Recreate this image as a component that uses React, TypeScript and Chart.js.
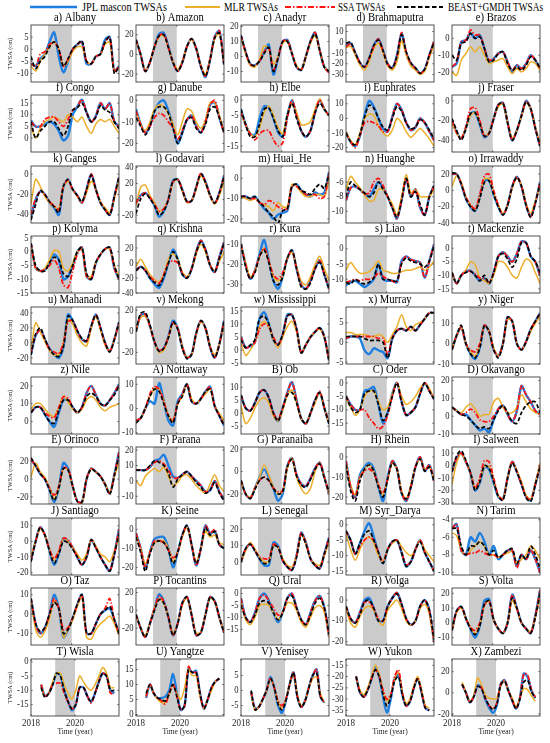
import React, { useEffect, useRef } from 'react';
import { Chart, registerables } from 'chart.js';
Chart.register(...registerables);

// ---------------- DATA ----------------
const legendLabels = ['JPL mascon TWSAs', 'MLR TWSAs', 'SSA TWSAs', 'BEAST+GMDH TWSAs'];

const basinTitles = [
  'a) Albany', 'b) Amazon', 'c) Anadyr', 'd) Brahmaputra', 'e) Brazos',
  'f) Congo', 'g) Danube', 'h) Elbe', 'i) Euphrates', 'j) Fraser',
  'k) Ganges', 'l) Godavari', 'm) Huai_He', 'n) Huanghe', 'o) Irrawaddy',
  'p) Kolyma', 'q) Krishna', 'r) Kura', 's) Liao', 't) Mackenzie',
  'u) Mahanadi', 'v) Mekong', 'w) Mississippi', 'x) Murray', 'y) Niger',
  'z) Nile', 'A) Nottaway', 'B) Ob', 'C) Oder', 'D) Okavango',
  'E) Orinoco', 'F) Parana', 'G) Paranaiba', 'H) Rhein', 'I) Salween',
  'J) Santiago', 'K) Seine', 'L) Senegal', 'M) Syr_Darya', 'N) Tarim',
  'O) Taz', 'P) Tocantins', 'Q) Ural', 'R) Volga', 'S) Volta',
  'T) Wisla', 'U) Yangtze', 'V) Yenisey', 'W) Yukon', 'X) Zambezi',
];

const sampleTimes = [
  2018.46, 2018.635, 2018.81, 2018.985, 2019.16, 2019.335, 2019.51, 2019.685, 2019.86, 2020.035,
  2020.21, 2020.385, 2020.56, 2020.735, 2020.91, 2021.085, 2021.26, 2021.435, 2021.61, 2021.785,
];

const grayPeriod = [2019.1, 2020.0];
const bottomTickYears = [2018, 2020];
const innerTickYears = [2020];

const yLimits = [
  [-13.5, 10], [-28, 30], [-17, 21], [-37, 16], [-26, 8],
  [-6, 18.5], [-24, 2.5], [-17, 1.7], [-23, 16], [-52, 6],
  [-48, 8], [-30, 42], [-22, 6], [-11.6, -3.8], [-40, 30],
  [-15, 5.7], [-40, 36], [-34, -6], [-14.5, 4.2], [-16.5, 4.5],
  [-28, 48], [-31, 23], [-5.3, 16.5], [-5.5, 9], [-10, 18],
  [-7, 25], [-10.5, 13], [-8, 14], [-19, 2.2], [-10, 22],
  [-28, 36], [-15, 22], [-29, 22], [-23.5, 5], [-31, 15],
  [-21.5, 15], [-24, 6], [-8, 27], [-16.3, 2.2], [-10.3, -3.8],
  [-16, 13.5], [-39, 25], [-21.5, 2.3], [-21.6, 5.8], [-15, 23.6],
  [-19, 1], [-0.5, 18.5], [-8.5, 10.5], [-37.5, -12.2], [-22, 32],
];

const yTicks = [
  [-10, -5, 0, 5], [-20, 0, 20], [-10, 0, 10, 20], [-30, -20, -10, 0, 10], [-20, -10, 0],
  [0, 5, 10, 15], [-20, -10, 0], [-15, -10, -5, 0], [-20, -10, 0, 10], [-40, -20, 0],
  [-40, -20, 0], [-20, 0, 20, 40], [-20, -10, 0], [-10, -8, -6], [-40, -20, 0, 20],
  [-15, -10, -5, 0, 5], [-40, -20, 0, 20], [-30, -20, -10], [-10, -5, 0], [-15, -10, -5, 0],
  [-20, 0, 20, 40], [-20, 0, 20], [-5, 0, 5, 10, 15], [-5, 0, 5], [-10, 0, 10],
  [0, 10, 20], [-10, 0, 10], [-5, 0, 5, 10], [-15, -10, -5, 0], [-10, 0, 10, 20],
  [-20, 0, 20], [-10, 0, 10, 20], [-20, 0, 20], [-20, -10, 0], [-30, -20, -10, 0, 10],
  [-20, -10, 0, 10], [-20, -10, 0], [0, 10, 20], [-15, -10, -5, 0], [-10, -8, -6, -4],
  [-10, 0, 10], [-20, 0, 20], [-15, -10, -5, 0], [-20, -10, 0], [-10, 0, 10, 20],
  [-15, -10, -5, 0], [0, 5, 10, 15], [-5, 0, 5], [-35, -30, -25, -20, -15], [-20, 0, 20],
];

const jplSeries = [
  [-6, -7, -4, -2, 3, 7, -3, -9.5, -5, 0, 2, 3, -6, -6, -3, -2, 4, 5, -9, -7],
  [15, 0, -17, -8, 8, 21, 22, 8, -8, -17, -8, 8, 16, 6, -12, -23, -5, 18, 24, -10],
  [14, 3, -5, -6, -3, 3, 8, -12, -1, 10, 11, 2, -7, -9, 0, 10, 16, 4, -7, -10],
  [-3, -1, -10, -19, -23, -15, -3, 3, -8, -20, -24, -12, 8, -10, -20, -24, -29, -25, -12, 0],
  [-17, -15, -2, -1, 3, 0, 2, -6, -14, -12, -9, -8, -14, -20, -16, -18, -15, -10, -13, -18],
  [7.5, 5, 5, 6, 7, 6, 3, -1, 1, 10, 13.5, 16.5, 11, 7, 9.5, 15, 12.5, 15, 7, 5],
  [-4, -11, -15, -12, -5, -1, 0, -5, -12, -20, -15, -9, -7, -12, -15, -10, -2, -1, -8, -15],
  [-3, -8, -11, -11.5, -6, -2, -2.5, -6, -10.5, -12, -5, 0, -5, -10, -12, -10, -4, 0, -3, -5],
  [-10, -16, -19, -12, 2, 12, 8, 0, -7, -9, 1, 10, 6, -3, -8, -6, 0, -3, -9, -15],
  [-20, -32, -38, -28, -13, -12, -24, -37, -33, -18, -4, -2, -22, -40, -30, -15, 0, -8, -28, -46],
  [-42, -25, -17, -20, -28, -33, -40, -12, -6, -15, -21, -28, -15, 0, -15, -28, -35, -40, -22, -3],
  [-5, 5, 8, 2, -8, -22, -15, 0, 24, 25, 12, -3, -2, 15, 32, 22, 5, -5, 8, 30],
  [-9, -9, -10, -9, -12, -15, -17, -20, -18, -17, -16, -4, -3, -6, -8, -9, -7, -8, -7, 3],
  [-8.5, -6.8, -6.6, -7, -7.6, -8, -7, -6, -6.8, -8, -9.5, -11, -8.5, -5.5, -8, -7, -9.5, -10.5, -8, -6.5],
  [20, 20, 8, -10, -20, -25, -8, 12, 12, -5, -20, -30, -18, 5, 17, 5, -18, -32, -15, 10],
  [3, -6, -7, -6.5, -4, -1, -3, -10, -9, -5, 0, 1.5, -9, -10, -4, -1, 1, 1.5, -6, -10],
  [-10, -5, -10, -20, -28, -33, -20, 0, 18, 5, -15, -20, -8, 15, 30, 18, -3, -12, 8, 28],
  [-10, -20, -27, -23, -15, -8, -18, -28, -32, -26, -17, -13, -22, -30, -32, -28, -22, -18, -25, -32],
  [-12, -11, -10.5, -11.5, -12.5, -11.5, -10, -5, -10, -10.5, -10.5, -11, -4, -2.5, -3.5, -4, -4.5, -9.5, -4, 1.5],
  [-9, -13, -10, -8.5, -8.3, -10, -12, -11, -13, -9, -3, -1.5, -3, -5, -2, 2.5, 2, -3, -5, -10],
  [-15, 10, 17, 5, -8, -15, -20, -5, 38, 30, 16, 5, 2, 22, 38, 20, 0, -11, 5, 28],
  [0, 15, 16, 5, -10, -19, -16, -5, 10, 3, -15, -25, -22, -2, 10, 3, -15, -25, -12, 10],
  [5, 1, 1.5, 3, 12, 14.5, 10, 4, 2, 6, 13.5, 13.5, 8, -1, 2, 5, 7, 8.5, 5, -4],
  [1, 1.5, 1.5, 1, -2, -3, -1.5, -2, -2.5, -4, 1, 3, 3.5, 3, 4, 3, 4.5, 6, 7.5, 7.5],
  [-3, 4, 8, 0, -5, -7.5, -2, 9, 6, -3, -6, 0, 13, 11, 0, -3, 1, 7, 11, 15],
  [5, 8, 8, 4, 0, -3, 5, 12, 12, 8, 5, 8, 16, 20, 15, 10, 9, 12, 16, 21],
  [-5, -4, 0, 3, 2, 10.5, 3, -5, -7, 3, 6, 10, 3, 2, 4, 7, 9, 1, -3, -7],
  [7, 2, 1, 4, 8, 9, 6, 0, -3, 2, 8, 12, 5, -2, -4, 0, 5, 8, 2, -4],
  [-5, -8, -10, -10, -3, -2.5, -1.5, -8, -15, -11, -4, 0, -7, -12, -11, -9, -4, 0, -3, -6],
  [5, 3, 1, 1, -2, -5, -8, -7, -9, -2, 4, 6, 1, -3, 3, 17, 12, 8, 3, 1],
  [22, 15, 6, 0, -12, -26, -10, 18, 12, -8, -25, -26, 0, 12, 8, 3, -6, -16, 5, 30],
  [7, 7, 7, 9, 13, 14, 17, 10, 3, 2, 4, 6, 3, 0, -3, -7, -6, 0, -7, -12],
  [-8, -20, -24, -15, -5, 2, -5, -15, -26, -20, 5, 12, -3, -11, -13, -6, 3, 8, -5, -20],
  [-2, -15, -20, -9, -5, -3, -6, -15, -22, -10, -2, -6, -18, -22, -15, -5, 0, -7, -4, -12],
  [-5, 6, 10, 3, -6, -20, -14, -1, -3, -14, -25, -27, -10, 3, -5, -15, -25, -28, -15, 0],
  [-12, 0, 9, 4, -6, -15, -8, 2, 0, -4, -10, -15, -10, 1, -4, -10, -15, -19, -8, 8],
  [-2, -10, -20, -12, -5, -4, -4, -10, -20, -12, -3, 2, -8, -19, -10, 2, -2, -1, -8, -10],
  [0, 8, 11, 7, 2, -2, -2, 12, 10, 1, -3, -5, 4, 18, 12, 2, -2, -4, 5, 15],
  [-2, -5, -9.5, -6, -2, 0.5, -4, -9, -12.5, -8, -5.5, -5, -9, -13.5, -12, -8, -5, -9, -12, -15],
  [-5, -4.5, -7.5, -8, -6, -6.5, -5.5, -6.5, -8, -7, -8.5, -8, -7.5, -7.5, -9.3, -8, -8.5, -7.5, -8.5, -10],
  [8, -5, -10, -7, 0, 10, 3, -12, -8, -2, 5, 10, -10, -10, -5, 0, 2, 3, -3, -10],
  [-5, -20, -30, -15, 2, 18, 10, -8, -28, -15, 8, 15, -5, -28, -25, -5, 15, 10, -8, -25],
  [-2, -10, -12, -8, -2, 0, -3, -8, -12, -8, -2, 0, -6, -11, -13, -8, -3, -1, -6, -18],
  [-3, -9, -11, -6, 0, 1, -4, -10, -10, -3, 1, 3.5, -2, -9, -12, -10, -3, 0, -5, -20],
  [-5, 8, 11, 3, -4, -10, -2, 15, 16, 2, -4, -7, 0, 19, 10, 0, -4, -7, 5, 22],
  [-8, -12, -11, -8, -4, -4.5, -10, -14, -17, -15, -9, -9, -12, -14, -11, -7, -4, -5, -10, -11],
  [5.5, 10, 7, 5.5, 5.5, 6, 8, 13.5, 7, 1.5, 3, 15, 14, 14.5, 7, 2, 5, 9, 11, 12],
  [-0.5, -6, -5.5, -3, 0, 4.5, 1, -5, -7.5, -3.5, 2, 6, -2, -5.5, -3.5, 1, 5, 7, -2, -4],
  [-20, -27, -29, -26, -21, -16, -20, -29, -36, -30, -21, -19, -28, -33, -31, -25, -21, -27, -34, -35],
  [8, 0, -9, -4, 7, 5, -6, -14, -19, -12, 8, 12, 2, -7, -15, -5, 18, 15, 2, -5],
];

const mlrSeries = [
  [-7, -9, -5, -2, 1, 3, 0, -7, -5, -1, 1, 1, -5, -6, -3, -2, 2, 3, -9, -8],
  [14, 0, -16, -8, 8, 18, 19, 7, -7, -15, -7, 8, 15, 6, -11, -20, -4, 16, 21, -9],
  [13, 2, -6, -7, -2, 7, 5, -5, 0, 9, 10, 2, -6, -9, 0, 9, 14, 4, -7, -10],
  [-5, -4, -12, -21, -26, -18, -6, -1, -10, -22, -26, -18, 1, -12, -22, -26, -30, -27, -14, -3],
  [-20, -22, -13, -9, -5, -8, -5, -10, -15, -14, -13, -12, -17, -21, -18, -20, -18, -14, -15, -19],
  [5, 0, 4, 7, 8, 9, 8, 7, 10, 9, 7, 9, 5, 2, 6, 8, 7, 8, 5, 2],
  [-5, -11, -14, -10, -4, -2, -3, -6, -11, -16, -10, -4, -5, -10, -13, -9, -1, -1, -7, -15],
  [-4, -8, -11, -12, -9, -4, -2, -5, -9, -11, -5, -1, -4, -8, -8, -7, -3, 0.5, -3, -5],
  [-9, -15, -18, -10, 0, 3, 2, -5, -10, -12, -8, 0, -3, -9, -13, -10, -7, -10, -14, -19],
  [-22, -33, -38, -28, -15, -12, -22, -36, -32, -18, -6, -3, -22, -38, -30, -16, -2, -8, -27, -44],
  [-30, -5, -12, -22, -28, -32, -34, -12, -7, -15, -22, -28, -18, -7, -15, -27, -33, -38, -24, -6],
  [-8, 15, 18, 5, -5, -15, -12, 0, 22, 25, 10, -4, -2, 13, 30, 20, 4, -6, 5, 22],
  [-9, -10, -11, -10, -12, -13, -14, -16, -12, -14, -14, -3, -4, -7, -9, -9, -8, -8, -9, -1],
  [-7, -5.2, -6, -6.8, -7.8, -8.6, -8.5, -7, -7, -8, -9, -10.5, -8, -5, -7.5, -7, -8, -8, -8, -7],
  [5, 18, 10, -8, -18, -23, -8, 14, 14, -3, -18, -28, -18, 3, 15, 6, -16, -28, -13, 5],
  [3, -6, -7, -6, -3, 0.5, 0, -6, -7, -4, 0, 1, -9, -9, -4, -1, 1, 1, -5, -9],
  [-5, 5, -5, -15, -22, -25, -15, 5, 12, 5, -12, -18, -8, 12, 25, 15, -2, -10, 2, 15],
  [-10, -19, -26, -23, -16, -12, -18, -26, -28, -26, -17, -14, -21, -28, -30, -26, -20, -16, -22, -28],
  [-7, -4.5, -6.5, -8, -8, -7.5, -6, -4, -7, -7.5, -8, -8, -7.5, -7, -7, -6.5, -6, -7, -6, -4],
  [-9, -13, -10, -8, -5, -6, -11, -12, -13, -10, -5, -5, -7, -10, -11, -7, -4, -5, -9, -13],
  [-10, 27, 15, 2, -10, -16, -15, 0, 32, 25, 10, 0, -4, 20, 35, 18, -3, -10, 5, 25],
  [2, 13, 14, 5, -10, -20, -18, -6, 8, 3, -14, -25, -22, -3, 9, 3, -14, -22, -12, 7],
  [3, -2, 0, 3, 9, 11, 9, 4, 1, 5, 9, 11, 7, -1, 2, 5, 7, 8, 5, -4],
  [2.5, 2.5, 2, 2, 2, 1.5, 1.5, 2, 1.5, 0, 2, 4, 7, 4, 3, 4.5, 5, 6, 7.5, 7.5],
  [-3, 4, 8, 0, -4, -6, -1, 9, 6, -2, -6, 0, 12, 11, 0, -3, 1, 6, 10, 13],
  [7, 10, 10, 7, 4, 3, 8, 14, 11, 7, 5, 7, 12, 14, 12, 8, 6, 8, 9, 10],
  [-5, -4, 0, 5, 8, 8, 3, -3, -5, 2, 5, 10, 4, 2, 4, 6, 8, 1, -2, -5],
  [3, -4, -2, 2, 5, 6, 4, -1, -3, 1, 7, 9, 4, -2, -4, 0, 4, 8, 2, -4],
  [-6, -9, -12, -10, -5, -3, -3, -7, -10, -9, -4, 0, -5, -8, -7, -5, -2, 0, -2, -6],
  [5, 3, 2, 5, 7, 4, 0, 1, 1, 8, 10, 5, 2, 2, 5, 12, 8, 4, 2, 1],
  [2, 18, 8, 2, -10, -22, -10, 12, 10, -8, -25, -27, 0, 11, 8, 3, -6, -15, 3, 18],
  [0, -3, 3, 6, 8, 6, 9, 3, -3, -1, 3, 4, 1, -3, -6, -8, -2, 4, -3, -7],
  [-10, -20, -23, -15, -5, 6, -3, -14, -20, -18, 3, 12, -5, -15, -20, -15, 0, 8, -5, -20],
  [-3, -14, -19, -10, -6, -4, -7, -14, -19, -11, -3, -6, -17, -21, -14, -5, -1, -6, -5, -11],
  [-15, 2, 10, 3, -6, -18, -12, -1, -1, -12, -24, -27, -10, 3, -4, -13, -24, -27, -14, 2],
  [-10, 0, 8, 4, -5, -12, -6, 2, 0, -4, -8, -12, -8, 1, -3, -8, -10, -13, -6, 2],
  [-3, -10, -18, -12, -7, -6, -6, -10, -17, -12, -4, 1, -8, -17, -10, -1, -4, -3, -7, -8],
  [0, 7, 12, 8, 3, 0, 0, 10, 9, 2, -2, -3, 4, 17, 11, 2, -1, -2, 4, 12],
  [-3, -8, -11.5, -8, -5, -4, -6, -10, -12, -8, -6, -5, -7, -9, -10, -8, -5, -8, -10, -12],
  [-5.5, -5.8, -7.5, -8, -7.5, -7, -6.5, -7, -8, -8, -8.3, -8, -7.8, -7.6, -9, -8.5, -8, -7, -7.5, -8.5],
  [8, -8, -12, -9, -2, 7, 3, -12, -8, -3, 4, 9, -12, -13, -8, -5, -3, -1, -5, -11],
  [-5, -20, -28, -15, 3, 13, 8, -8, -26, -15, 6, 14, -5, -26, -24, -5, 14, 9, -8, -24],
  [-3, -11, -13, -10, -5, -4.5, -5, -8, -11, -8, -4, -4, -7, -12, -14, -10, -6, -5, -8, -18],
  [-4, -11, -13, -8, -4, -3, -5, -10, -12, -5, -2, 0, -4, -10, -12, -10, -4, -2, -7, -20],
  [-5, 7, 10, 3, -3, -7, -1, 12, 15, 2, -4, -7, 0, 15, 9, 0, -4, -6, 4, 17],
  [-8, -12, -11, -7, -4, -4, -8, -11, -13, -10, -5, -7, -9, -10, -8, -5, -2, -4, -9, -9],
  [6, 10, 7, 5, 4, 4, 7, 10, 7, 5, 9, 15, 13, 13, 6, 2, 5, 8, 11, 12],
  [-0.5, -6.5, -5.5, -3, 0, 4, 1, -4, -6, -3, 2, 5.5, -1.5, -5, -3.5, 1, 4, 4.5, -1, -4],
  [-20, -26, -28, -25, -20, -15, -19, -27, -31, -28, -21, -18, -27, -32, -30, -24, -20, -26, -33, -34],
  [10, 0, -8, -3, 14, 8, -2, -5, -6, -5, 6, 11, 2, -5, -13, -5, 4, 3, -3, -8],
];

const ssaSeries = [
  [-6, -7, -2, -1, 2, 3, 0, -7, -4, 0, 2, 3, -5, -6, -3, -2, 3, 5, -9, -7],
  [15, 0, -17, -8, 8, 19, 21, 7, -8, -17, -8, 8, 16, 6, -12, -22, -5, 18, 24, -10],
  [14, 3, -5, -6, -3, 3, 6, -9, -1, 10, 11, 2, -7, -9, 0, 10, 16, 4, -7, -11],
  [-4, -2, -10, -19, -23, -15, -4, 3, -8, -20, -24, -13, 9, -9, -20, -24, -29, -25, -12, 1],
  [-17, -14, -2, -1, 5, 2, 2, -6, -13, -12, -9, -8, -14, -19, -16, -18, -15, -10, -13, -18],
  [7, 5, 5, 8, 9, 9, 7, 5, 8, 12, 13.5, 16.5, 11, 7, 9.5, 15, 12.5, 15, 7, 5],
  [-5, -11, -15, -12, -8, -6, -7, -10, -13, -18, -14, -9, -7, -12, -15, -10, -2, 0, -8, -15],
  [-4, -8, -11, -13, -11, -10, -10, -13, -15, -14, -6, 0, -5, -10, -12, -10, -4, 0, -3, -5],
  [-10, -16, -20, -12, -3, -2, -3, -5, -9, -9, 1, 10, 6, -3, -8, -6, 0, -3, -9, -15],
  [-20, -32, -38, -26, -8, -7, -20, -36, -33, -18, -4, -2, -22, -40, -30, -15, 0, -8, -28, -46],
  [-40, -24, -17, -20, -27, -31, -35, -12, -6, -15, -21, -28, -15, 0, -15, -28, -35, -40, -22, -3],
  [-5, 4, 8, 2, -6, -15, -12, 0, 22, 25, 12, -3, -2, 15, 33, 22, 5, -5, 8, 30],
  [-9, -9, -10, -10, -12, -13, -11, -12, -14, -15, -15, -4, -4, -6, -8, -8, -8, -10, -9, 3],
  [-8.5, -6.8, -6.6, -7, -7.6, -7.5, -6, -5.5, -6.5, -8, -9.5, -11, -8.5, -5.5, -8, -7, -9.5, -10.5, -8, -6.5],
  [20, 20, 8, -8, -18, -22, -5, 18, 20, 0, -18, -30, -18, 5, 17, 5, -18, -32, -15, 10],
  [3, -6, -7, -6.5, -5, -3, -6, -12, -13, -7, -1, 1.5, -9, -10, -4, -1, 1, 1.5, -6, -10],
  [-10, -5, -10, -18, -24, -27, -15, 0, 3, 0, -13, -20, -8, 15, 30, 18, -3, -12, 8, 28],
  [-10, -20, -27, -23, -16, -12, -18, -25, -27, -24, -17, -13, -22, -30, -32, -28, -22, -18, -25, -32],
  [-11, -10.5, -10, -10.5, -10, -10, -9.5, -8, -9, -10, -10.5, -11, -4.5, -2.5, -3.5, -4, -4.5, -9.5, -4, 1.5],
  [-9, -13, -10, -8.5, -8.5, -9.5, -11, -11, -12.5, -9, -3, -1.5, -3, -5, -2, 2.5, 2, -3, -5, -10],
  [-13, 10, 17, 5, -8, -12, -14, 0, 28, 30, 16, 5, 2, 22, 38, 20, 0, -11, 5, 28],
  [0, 15, 16, 5, -10, -18, -16, -5, 8, 3, -15, -25, -22, -2, 10, 3, -15, -25, -12, 10],
  [5, 1, 1.5, 3, 8, 10, 9, 5, 2, 6, 13, 13.5, 8, -1, 2, 5, 7, 8.5, 5, -4],
  [1, 1.5, 1.5, 1.5, 1.5, 1.5, 1.5, 1, 1, -3, 1, 3, 3.5, 3, 4, 3, 4.5, 6, 7.5, 7.5],
  [-3, 4, 8, 0, -3, -4, 0, 9, 6, -3, -6, 0, 13, 11, 0, -3, 1, 7, 11, 15],
  [5, 8, 8, 5, 3, 2, 8, 14, 13, 8, 5, 8, 16, 20, 15, 10, 9, 12, 16, 21],
  [-5, -4, 0, 6, 9, 8, 3, -3, -5, 2, 6, 10, 3, 2, 4, 7, 9, 1, -3, -7],
  [7, 2, 1, 4, 8, 9, 6, 0, -2, 2, 8, 12, 5, -2, -4, 0, 5, 8.5, 2, -4],
  [-5, -8, -10, -10, -10, -13, -15, -17, -16, -12, -5, 0, -7, -12, -11, -9, -4, 0, -3, -6],
  [5, 3, 1, 2, 4, 2, -2, -3, -3, 0, 4, 6, 1, -3, 3, 17, 12, 8, 3, 1],
  [22, 15, 6, 0, -10, -18, -8, 12, 12, -8, -25, -26, 0, 12, 8, 3, -6, -16, 5, 30],
  [7, 7, 7, 9, 12, 13, 11, 7, 2, 2, 4, 6, 3, 0, -3, -7, -6, 0, -7, -12],
  [-8, -20, -24, -15, -8, -5, -8, -15, -18, -17, 5, 12, -3, -11, -13, -6, 3, 8, -5, -20],
  [-2, -15, -20, -10, -7, -6, -8, -14, -18, -11, -2, -6, -18, -22, -15, -5, 0, -7, -4, -12],
  [-5, 6, 10, 3, -6, -18, -10, 4, 3, -10, -24, -27, -10, 3, -5, -15, -25, -28, -15, 0],
  [-12, 0, 9, 4, -5, -11, -6, 2, 1, -4, -10, -15, -10, 1, -4, -10, -15, -19, -8, 8],
  [-2, -10, -20, -12, -6, -6, -7, -11, -15, -12, -3, 2, -8, -19, -10, 2, -2, 0, -8, -10],
  [0, 8, 11, 7, 3, 2, 2, 11, 9, 1, -3, -5, 4, 18, 12, 2, -2, -4, 5, 15],
  [-2, -5, -9.5, -7, -5, -4, -5, -9, -12, -8, -5.5, -5, -9, -13, -12, -8, -5, -9, -12, -15],
  [-5, -4.5, -7.5, -8, -7.8, -7.8, -7.5, -7.8, -8, -8, -8.3, -8, -7.5, -7.5, -9.5, -8, -8.5, -7.5, -8.5, -10],
  [8, -5, -10, -7, 0, 8, 3, -8, -7, -2, 5, 10, -10, -10, -5, 0, 3, 8, -3, -10],
  [-5, -20, -30, -15, 2, 16, 10, -8, -28, -15, 8, 15, -5, -28, -25, -5, 15, 10, -8, -25],
  [-2, -10, -12, -8, -2, -0.5, -3, -6, -9, -8, -2, 0, -6, -11, -13, -8, -3, -1, -6, -18],
  [-3, -9, -11, -6, -1, -1, -4, -9, -10, -3, 1, 3.5, -2, -9, -12, -10, -3, 0, -5, -20],
  [-5, 8, 11, 3, -3, -5, 0, 12, 15, 2, -4, -7, 0, 19, 10, 0, -4, -7, 5, 22],
  [-8, -12, -11, -8, -7.5, -7.5, -11, -14, -16.5, -15, -9, -9, -12, -14.5, -11, -7, -4, -5, -11, -11],
  [6, 10, 7, 5.5, 4.5, 3.5, 7, 10, 6, 1.5, 3, 16, 14, 14, 7, 2, 5, 9, 11, 12],
  [-0.5, -6, -5.5, -3, 0, 4, 1, -3.5, -5, -3, 2, 6, -2, -5.5, -3.5, 1, 5, 7, -2, -4],
  [-20, -27, -29, -26, -21, -17, -20, -26, -30, -28, -20, -17, -27, -33, -31, -25, -21, -27, -34, -35],
  [8, 0, -9, -4, 6, 5, -5, -12, -15, -10, 8, 12, 2, -7, -15, -5, 18, 17, 3, -4],
];

const beastSeries = [
  [-3, -8, -5, -3, 1, 3, 0, -7, -4, 0, 2, 3.5, -5, -6, -3, -2, 3, 5, -10, -7],
  [15, 0, -17, -8, 8, 19, 20, 7, -8, -17, -8, 8, 16, 6, -12, -22, -5, 17, 22, -10],
  [14, 3, -5, -6, -3, 2, 6, -10, -1, 10, 10, 2, -7, -9, 0, 10, 15, 4, -7, -10],
  [-1, 0, -10, -19, -23, -15, -3, 2, -8, -21, -24, -13, 7, -9, -19, -24, -29, -25, -12, 0],
  [-10, -13, -3, -2, 3, 0, 1, -6, -14, -13, -9, -8, -15, -19, -17, -19, -16, -11, -13, -18],
  [7, 0, 3, 5, 7, 7, 4, 1, 5, 12, 13, 15, 11, 7, 9, 14, 12, 11, 7, 4],
  [-8, -12, -16, -12, -5, -3, -3, -6, -13, -20, -15, -9, -8, -13, -15, -11, -4, -3, -8, -15],
  [-3, -8, -12, -12, -8, -3, -2.5, -6, -10, -12, -5, -1, -6, -10, -12, -10, -4, -1, -3, -5],
  [-10, -16, -18, -11, 1, 9, 7, 0, -6, -8, 0, 8, 5, -3, -7, -6, -1, -3, -8, -14],
  [-18, -30, -40, -28, -13, -12, -23, -36, -33, -18, -4, -2, -22, -40, -30, -15, -1, -8, -28, -46],
  [-45, -30, -16, -20, -27, -32, -38, -12, -5, -15, -21, -27, -15, -1, -15, -28, -35, -40, -22, -3],
  [-18, 0, 7, 1, -8, -20, -15, 0, 23, 25, 11, -3, -2, 15, 32, 21, 5, -5, 8, 28],
  [-9, -9, -10, -9, -12, -14, -17, -19, -22, -16, -15, -4, -3, -6, -7, -8, -5, -3, -5, 2],
  [-8, -6, -6.5, -7, -7.5, -8, -7.5, -6, -7, -8, -9.5, -10.8, -8.5, -5.5, -8, -7.3, -9, -10.5, -8, -6.5],
  [22, 20, 8, -10, -20, -25, -10, 10, 12, -5, -20, -30, -18, 4, 16, 5, -18, -33, -15, 8],
  [3, -5, -7, -7, -4, -2, -3, -8, -9, -5, 0, 1.5, -8, -10, -4, -1, 1, 1.5, -5, -10],
  [-10, -5, -10, -20, -26, -30, -18, 0, 15, 5, -15, -20, -8, 14, 28, 17, -3, -12, 6, 26],
  [-10, -21, -27, -24, -16, -13, -19, -28, -30, -26, -17, -13, -22, -31, -32, -29, -22, -19, -25, -32],
  [-11, -11.5, -10, -11, -11.5, -11, -9.5, -5, -10, -10, -10.5, -10.5, -5, -3, -4, -4.5, -5, -6, -4, 1],
  [-9, -13, -10, -9, -8.5, -10, -12, -10, -13, -9, -3, -2, -4, -7, -4, 2, 2, -3, -5, -9],
  [-16, 12, 20, 5, -8, -16, -18, -5, 36, 30, 16, 6, 3, 22, 37, 20, 0, -12, 5, 27],
  [0, 17, 18, 6, -10, -19, -16, -6, 9, 2, -16, -26, -22, -2, 10, 3, -15, -25, -12, 9],
  [4, 1, 2, 4, 12, 13, 10, 4, 2, 6, 13, 13.5, 8, -1, 2, 5, 7, 8.5, 5, -4],
  [1.5, 1.5, 1.5, 1.5, 1, 0.5, 0.5, 0.5, 0, -4, 1, 3, 3.5, 3, 4, 3, 4.5, 6, 7.5, 7.5],
  [-3, 4, 9, 0, -5, -7, -2, 9, 6, -3, -7, 0, 13, 11, 0, -3, 1, 7, 11, 15],
  [5, 8, 8, 4, 0, -1, 6, 12, 12, 8, 5, 8, 14, 16, 14, 10, 9, 12, 15, 20],
  [-6, -4, 0, 5, 8, 7, 2, -3, -6, 2, 5, 10, 3, 2, 4, 7, 8, 1, -3, -7],
  [7, 2, 1, 4, 8, 9, 6, 0, -3, 2, 7, 8, 4, -2, -4, 0, 5, 8, 2, -4],
  [-5, -9, -11, -10, -4, -3, -3, -8, -14, -11, -5, 0, -7, -12, -11, -9, -4, 0, -3, -6],
  [5, 3, 1, 0, -2, -5, -7, -6, -7, -2, 3, 6, 2, -3, -4, 2, 6, 8, 8, 2],
  [24, 15, 6, 0, -12, -24, -10, 12, 10, -8, -25, -26, 0, 11, 8, 3, -6, -17, 4, 26],
  [7, 7, 7, 10, 13, 12, 10, 5, -4, 1, 4, 6, 3, -1, -4, -8, -6, -1, -8, -13],
  [-8, -20, -24, -16, -8, -5, -8, -15, -20, -18, 4, 11, -4, -12, -14, -7, 2, 7, -6, -18],
  [-4, -17, -22, -12, -6, -4, -7, -15, -20, -11, -3, -6, -18, -21, -15, -5, -1, -7, -5, -12],
  [-5, 8, 12, 4, -6, -20, -13, 0, -2, -13, -25, -28, -10, 2, -5, -15, -26, -29, -15, -1],
  [-13, 0, 9, 4, -6, -14, -8, 0, -1, -5, -10, -15, -10, 1, -4, -10, -15, -19, -8, 5],
  [-4, -12, -22, -13, -7, -6, -7, -11, -18, -12, -3, 2, -8, -18, -10, 1, -3, -1, -8, -10],
  [0, 8, 11, 7, 2, -1, 0, 10, 9, 1, -3, -5, 3, 17, 11, 2, -2, -4, 5, 14],
  [-2, -5, -9.5, -6, -3, -2, -5, -9, -12.5, -8, -5.5, -5, -9, -13.5, -12, -8, -5.5, -9, -12, -15],
  [-5, -5, -7, -8, -7, -7, -6.5, -7, -8, -7.5, -8.3, -8, -7.5, -7.3, -9, -8, -8.5, -7, -8, -9.5],
  [8, -5, -9, -7, 0, 6, 3, -10, -8, -2, 5, 10, -10, -10, -5, 0, 2, 4, -3, -10],
  [-5, -20, -30, -15, 0, 12, 8, -8, -28, -15, 8, 15, -5, -28, -25, -5, 15, 10, -8, -25],
  [-5, -10, -12, -9, -4, -3, -4, -8, -11, -8, -2, -1, -6, -11, -13, -9, -4, -2, -6, -17],
  [-3, -9, -11, -7, -1, 0, -4, -10, -10, -3, 1, 3, -2, -9, -12, -10, -3, 0, -5, -19],
  [-5, 8, 11, 3, -4, -8, -2, 13, 15, 2, -4, -7, 0, 17, 10, 0, -4, -7, 4, 20],
  [-9, -12.5, -11, -8, -4, -5, -10, -14, -16.5, -15, -9, -9, -12, -14, -11, -7, -4, -5, -10, -10],
  [7, 10, 7, 5.5, 5, 4.5, 7, 10, 6, 1.5, 3, 15, 14, 14, 7, 2, 5, 9, 11, 12],
  [0, -6.5, -5.5, -3, 0, 4, 1, -4.5, -6.5, -3.5, 2, 6, -2, -5.5, -3.5, 1, 5, 6, -2, -4],
  [-20, -27, -29, -26, -21, -17, -20, -28, -33, -29, -22, -20, -28, -33, -31, -25, -21, -27, -34, -35],
  [8, 0, -9, -4, 6, 4, -5, -12, -16, -11, 7, 11, 2, -7, -15, -6, 10, 12, 1, -5],
];

// ---------------- STYLE ----------------
const BLUE = '#1f7fe0';
const ORANGE = '#EDAE2A';
const RED = '#FF1414';
const BLACK = '#000000';
const GRAY = '#cbcbcb';
const AXIS = '#262626';
const FONT = '"Liberation Serif", "Times New Roman", Times, serif';

const FW = 88;
const FH = 57;

function drawText(
  ctx: CanvasRenderingContext2D, s: string, x: number, y: number, size: number,
  align: CanvasTextAlign, sx: number, color: string, rot = 0,
) {
  ctx.save();
  ctx.translate(x, y);
  if (rot) ctx.rotate(rot);
  ctx.scale(sx, 1);
  ctx.font = `${size}px ${FONT}`;
  ctx.fillStyle = color;
  ctx.textAlign = align;
  ctx.textBaseline = 'middle';
  ctx.fillText(s, 0, 0);
  ctx.restore();
}

function Panel({ k }: { k: number }) {
  const ref = useRef<HTMLCanvasElement | null>(null);
  const r = Math.floor(k / 5);
  const c = k % 5;
  const fl = Math.round(30.5 + 105.3 * c);
  const ft = Math.round(25 + 70.4 * r);
  const bottomRow = r === 9;
  const padL = 30, padT = 16, padR = 4, padB = bottomRow ? 26 : 3;
  const cw = FW + padL + padR;
  const ch = FH + padT + padB;

  useEffect(() => {
    const canvas = ref.current;
    if (!canvas) return;
    const xMin = bottomRow ? 2018 : sampleTimes[0];
    const xMax = bottomRow ? 2022 : sampleTimes[sampleTimes.length - 1];
    const pts = (arr: number[]) => arr.map((v, i) => ({ x: sampleTimes[i], y: v }));

    const decor = {
      id: 'decor',
      beforeDatasetsDraw(chart: any) {
        const { ctx, chartArea, scales } = chart;
        const g0 = scales.x.getPixelForValue(grayPeriod[0]);
        const g1 = scales.x.getPixelForValue(grayPeriod[1]);
        ctx.save();
        ctx.fillStyle = GRAY;
        ctx.fillRect(g0, chartArea.top, g1 - g0, chartArea.bottom - chartArea.top);
        ctx.restore();
      },
      afterDatasetsDraw(chart: any) {
        const { ctx, chartArea, scales } = chart;
        const { left, right, top, bottom } = chartArea;
        ctx.save();
        ctx.strokeStyle = AXIS;
        ctx.lineWidth = 0.8;
        ctx.strokeRect(left, top, right - left, bottom - top);
        ctx.lineWidth = 0.6;
        for (const v of yTicks[k]) {
          const py = scales.y.getPixelForValue(v);
          ctx.beginPath();
          ctx.moveTo(left, py); ctx.lineTo(left + 1.8, py);
          ctx.moveTo(right, py); ctx.lineTo(right - 1.8, py);
          ctx.stroke();
          drawText(ctx, String(v), left - 2.5, py, 10, 'right', 0.86, AXIS);
        }
        const xt = bottomRow ? bottomTickYears : innerTickYears;
        for (const t of xt) {
          const px = scales.x.getPixelForValue(t);
          ctx.beginPath();
          ctx.moveTo(px, bottom); ctx.lineTo(px, bottom - 1.8);
          ctx.moveTo(px, top); ctx.lineTo(px, top + 1.8);
          ctx.stroke();
          if (bottomRow) drawText(ctx, String(t), px, bottom + 7.5, 10.5, 'center', 0.86, AXIS);
        }
        ctx.restore();
        drawText(ctx, basinTitles[k], (left + right) / 2, top - 7, 12.5, 'center', 0.85, '#000');
        if (c === 0) {
          drawText(ctx, 'TWSA (cm)', left - 21, (top + bottom) / 2, 7, 'center', 0.9, AXIS, -Math.PI / 2);
        }
        if (bottomRow) {
          drawText(ctx, 'Time (year)', (left + right) / 2, bottom + 16, 8.5, 'center', 0.88, AXIS);
        }
      },
    };

    const chart = new Chart(canvas, {
      type: 'line',
      data: {
        datasets: [
          { label: legendLabels[3], data: pts(beastSeries[k]), borderColor: BLACK, borderWidth: 1.7, borderDash: [4, 2.2], order: 1 },
          { label: legendLabels[2], data: pts(ssaSeries[k]), borderColor: RED, borderWidth: 1.8, borderDash: [5, 1.8, 1.4, 1.8], order: 2 },
          { label: legendLabels[1], data: pts(mlrSeries[k]), borderColor: ORANGE, borderWidth: 1.5, order: 3 },
          { label: legendLabels[0], data: pts(jplSeries[k]), borderColor: BLUE, borderWidth: 2.4, order: 4 },
        ] as any,
      },
      options: {
        responsive: false,
        animation: false,
        events: [],
        layout: { padding: { left: padL, top: padT, right: padR, bottom: padB } },
        elements: { point: { radius: 0 }, line: { tension: 0.3, fill: false } },
        scales: {
          x: { type: 'linear', min: xMin, max: xMax, display: false },
          y: { type: 'linear', min: yLimits[k][0], max: yLimits[k][1], display: false },
        },
        plugins: { legend: { display: false }, tooltip: { enabled: false } },
      } as any,
      plugins: [decor as any],
    });
    return () => chart.destroy();
  }, [k]);

  return (
    <canvas
      ref={ref}
      width={cw}
      height={ch}
      style={{ position: 'absolute', left: fl - padL, top: ft - padT, width: cw, height: ch }}
    />
  );
}

function Legend() {
  const f = { fontFamily: FONT, fontSize: 12, fill: '#000' } as any;
  return (
    <svg width={550} height={15} style={{ position: 'absolute', left: 0, top: 0 }}>
      <line x1={30} y1={7} x2={77} y2={7} stroke={BLUE} strokeWidth={2.5} />
      <text x={82} y={10.5} {...f} textLength={85} lengthAdjust="spacingAndGlyphs">{legendLabels[0]}</text>
      <line x1={185} y1={7} x2={220} y2={7} stroke={ORANGE} strokeWidth={2} />
      <text x={224} y={10.5} {...f} textLength={54} lengthAdjust="spacingAndGlyphs">{legendLabels[1]}</text>
      <line x1={285} y1={7} x2={335} y2={7} stroke={RED} strokeWidth={2} strokeDasharray="6 2 1.5 2" />
      <text x={338} y={10.5} {...f} textLength={47} lengthAdjust="spacingAndGlyphs">{legendLabels[2]}</text>
      <line x1={397} y1={7} x2={443} y2={7} stroke={BLACK} strokeWidth={1.8} strokeDasharray="4.5 2.5" />
      <text x={448} y={10.5} {...f} textLength={95} lengthAdjust="spacingAndGlyphs">{legendLabels[3]}</text>
    </svg>
  );
}

export default function App() {
  return (
    <div style={{ position: 'absolute', left: 0, top: 0, width: 550, height: 743, background: '#fff', overflow: 'hidden' }}>
      <Legend />
      {basinTitles.map((_, k) => <Panel key={k} k={k} />)}
    </div>
  );
}
